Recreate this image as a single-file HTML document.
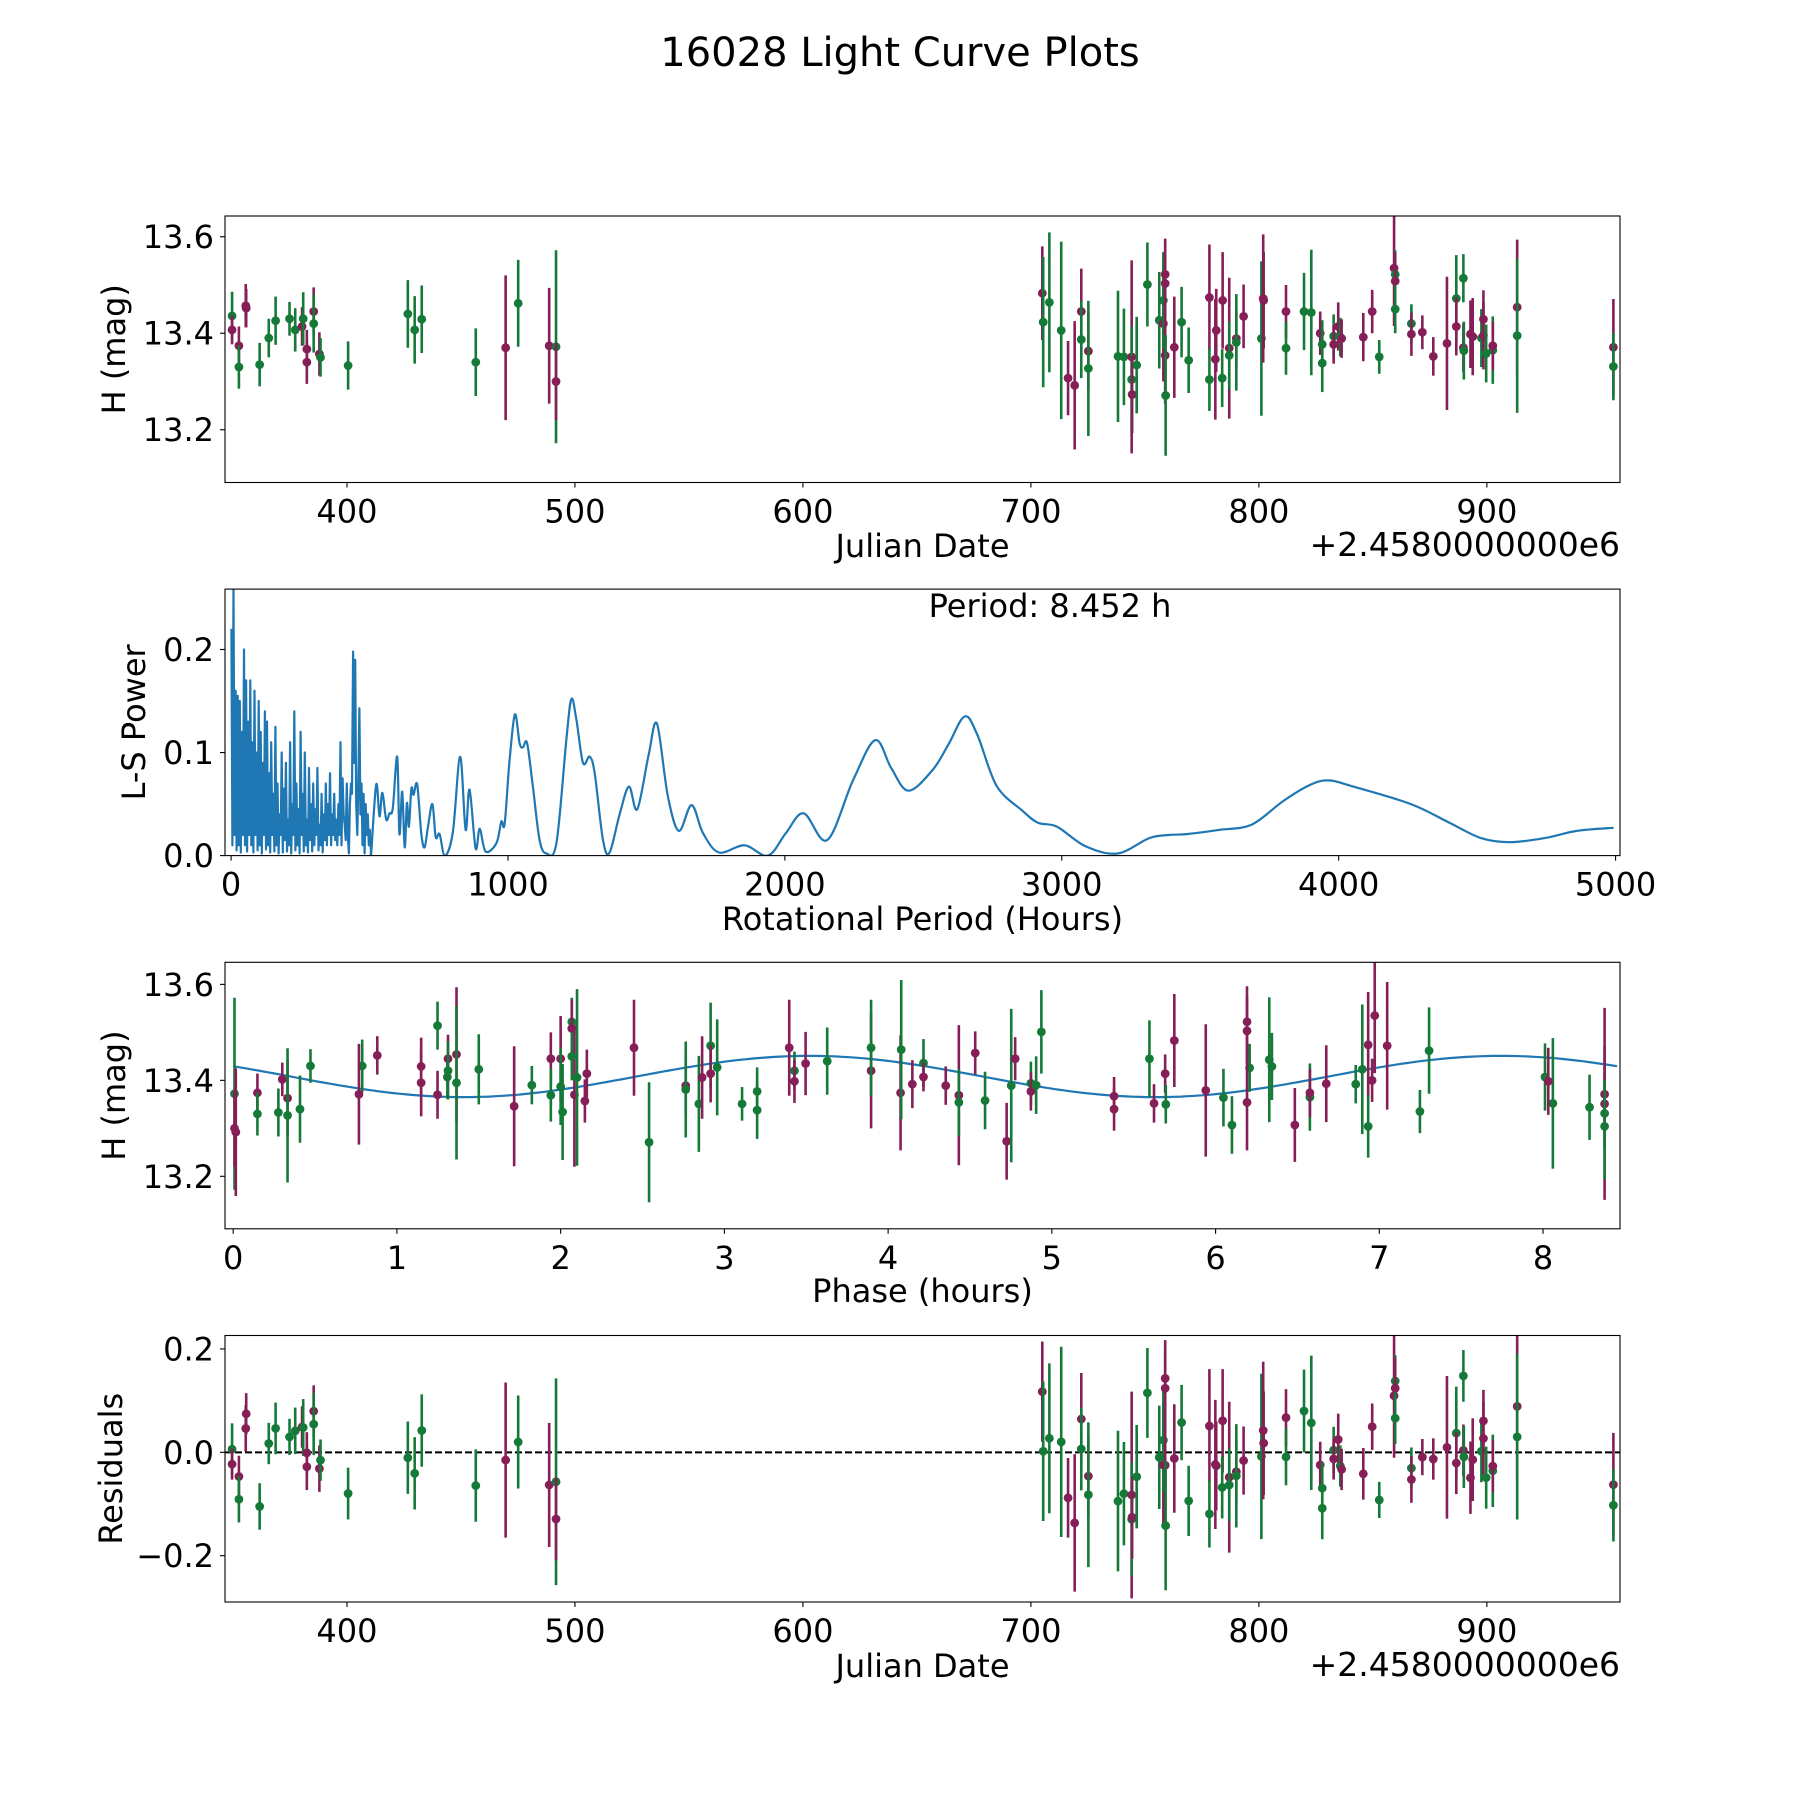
<!DOCTYPE html>
<html><head><meta charset="utf-8"><title>16028 Light Curve Plots</title>
<style>
html,body{margin:0;padding:0;background:#fff;}
svg{display:block;font-family:"DejaVu Sans","Liberation Sans",sans-serif;}
</style></head>
<body>
<svg id="fig" width="1800" height="1800" viewBox="0 0 1800 1800" xmlns="http://www.w3.org/2000/svg">
<rect x="0" y="0" width="1800" height="1800" fill="#fff"/>
<text x="900" y="66" font-size="40" text-anchor="middle">16028 Light Curve Plots</text>
</svg>
<script>
// ---- Light curve data (date offset from 2458000, mag, error, filter) ----
const obsDate = [349.6,349.6,352.6,352.6,355.6,355.8,361.7,365.7,368.7,374.8,377.3,380.3,380.8,382.4,382.4,385.4,385.4,387.9,388.4,400.5,426.7,429.7,432.8,456.5,469.6,475.1,488.7,491.7,491.7,
705.0,705.4,708.1,713.3,716.3,719.2,722.1,722.1,725.2,725.2,738.2,740.8,744.2,744.2,744.4,746.4,751.1,756.3,758.1,758.1,758.9,758.9,758.9,759.1,762.9,766.1,769.2,778.3,778.3,781.3,780.9,784.1,783.9,787.0,787.0,790.1,790.1,793.3,801.1,801.9,802.1,811.9,811.9,819.8,823.0,826.9,827.8,827.8,832.8,832.8,834.8,835.7,836.3,845.8,849.7,852.8,
859.3,859.8,859.8,859.8,866.9,866.9,871.7,876.5,882.5,886.6,886.6,889.7,889.7,889.9,892.8,893.8,897.6,898.5,898.5,899.7,902.6,902.6,913.3,913.3,955.5,955.5];
const obsMag = [13.436,13.407,13.374,13.330,13.457,13.452,13.335,13.390,13.426,13.430,13.407,13.414,13.430,13.367,13.340,13.445,13.420,13.357,13.350,13.333,13.440,13.407,13.429,13.340,13.370,13.462,13.374,13.372,13.300,
13.483,13.423,13.464,13.406,13.307,13.292,13.445,13.387,13.363,13.327,13.352,13.351,13.351,13.304,13.273,13.334,13.501,13.427,13.420,13.468,13.522,13.503,13.354,13.271,13.371,13.423,13.344,13.474,13.304,13.406,13.346,13.468,13.307,13.369,13.354,13.389,13.381,13.435,13.389,13.472,13.468,13.445,13.369,13.445,13.443,13.400,13.377,13.338,13.394,13.377,13.414,13.392,13.389,13.392,13.445,13.351,
13.535,13.522,13.508,13.450,13.420,13.398,13.402,13.352,13.379,13.472,13.414,13.514,13.370,13.364,13.398,13.393,13.390,13.429,13.395,13.358,13.365,13.374,13.454,13.395,13.371,13.331];
const obsErr = [0.05,0.03,0.04,0.045,0.045,0.04,0.045,0.04,0.05,0.035,0.045,0.04,0.055,0.04,0.045,0.05,0.06,0.045,0.04,0.05,0.07,0.07,0.07,0.07,0.15,0.09,0.12,0.2,0.08,
0.097,0.135,0.145,0.184,0.077,0.133,0.089,0.08,0.08,0.14,0.136,0.1,0.2,0.11,0.08,0.1,0.087,0.1,0.12,0.1,0.074,0.07,0.1,0.125,0.105,0.073,0.068,0.11,0.065,0.086,0.125,0.1,0.06,0.146,0.07,0.06,0.1,0.066,0.16,0.133,0.1,0.055,0.055,0.08,0.13,0.045,0.05,0.06,0.045,0.04,0.05,0.04,0.04,0.05,0.045,0.035,
0.12,0.05,0.06,0.05,0.04,0.045,0.035,0.04,0.138,0.09,0.06,0.05,0.05,0.06,0.07,0.08,0.06,0.06,0.07,0.06,0.07,0.05,0.14,0.16,0.1,0.07];
const obsBand = "gmmgmmgggggmgmmmgmggggggmgmgm"+"mgggmmmgmgggmgmgggmgmmmgmggmgmmmgmgmgmgmmmgggmgggmmgmmmgmgmg"+"gmmmmgmgmgmmgmmggmmgmgmmg";
// ---- Periodogram data ----
const noiseStart = 1, noiseEnd = 505;
const noisePower = [0.22,0.01,0.26,0.02,0.16,0.005,0.155,0.01,0.15,0.003,0.12,0.02,0.2,0.01,0.17,0.004,0.13,0.02,0.17,0.01,0.11,0.003,0.16,0.02,0.1,0.005,0.15,0.01,0.12,0.002,0.09,0.02,0.14,0.006,0.13,0.01,0.08,0.003,0.11,0.02,0.06,0.004,0.125,0.01,0.07,0.002,0.04,0.02,0.1,0.003,0.065,0.015,0.09,0.004,0.035,0.01,0.11,0.002,0.05,0.02,0.14,0.005,0.07,0.01,0.045,0.002,0.12,0.02,0.06,0.004,0.1,0.01,0.035,0.003,0.085,0.015,0.05,0.004,0.07,0.01,0.045,0.02,0.085,0.005,0.03,0.01,0.06,0.003,0.04,0.015,0.07,0.01,0.05,0.02,0.08,0.01,0.04,0.02,0.06,0.015,0.035,0.01,0.05,0.02,0.11,0.01,0.075,0.04,0.03,0.015,0.07,0.02,0.002,0.05,0.07,0.06,0.198,0.09,0.19,0.05,0.02,0.07,0.143,0.04,0.07,0.01,0.06,0.002,0.05,0.02,0.04,0.01,0.025,0.005];
const smoothPeriod = [506,524,536,546,560,572,584,600,608,618,627,635,642,651,659,672,687,699,711,727,739,753,772,801,827,847,861,883,898,919,958,976,988,1006,1025,1042,1054,1069,1090,1114,1139,1175,1211,1229,1247,1271,1295,1313,1343,1367,1404,1437,1467,1508,1538,1577,1617,1663,1704,1762,1854,1939,2004,2068,2153,2246,2326,2384,2446,2533,2591,2649,2694,2764,2856,2913,2983,3086,3201,3316,3386,3455,3570,3685,3800,3892,3961,4053,4261,4399,4514,4618,4744,4860,4993];
const smoothPower = [0.002,0.069,0.038,0.061,0.035,0.041,0.046,0.096,0.021,0.062,0.008,0.051,0.028,0.065,0.059,0.069,0.021,0.008,0.028,0.05,0.018,0.021,0.0,0.023,0.096,0.025,0.064,0.007,0.026,0.004,0.012,0.033,0.031,0.093,0.137,0.109,0.105,0.109,0.067,0.015,0.002,0.012,0.113,0.152,0.132,0.09,0.096,0.08,0.015,0.003,0.041,0.067,0.045,0.098,0.128,0.058,0.024,0.049,0.022,0.003,0.01,0.0,0.022,0.041,0.015,0.073,0.112,0.085,0.063,0.083,0.108,0.135,0.118,0.068,0.044,0.032,0.028,0.009,0.002,0.017,0.02,0.021,0.025,0.03,0.053,0.068,0.073,0.067,0.05,0.032,0.017,0.013,0.017,0.024,0.027];
// ---- Fit model ----
const periodHours = 8.452;
const fitMean = 13.408, fitAmp = 0.043, fitPeak = 3.52;

const NS = "http://www.w3.org/2000/svg";
const svg = document.getElementById('fig');
const GREEN = '#157a38', MAROON = '#861f57', BLUE = '#1f77b4';
function mk(tag, attrs, parent){ const e=document.createElementNS(NS,tag); for(const k in attrs) e.setAttribute(k,attrs[k]); (parent||svg).appendChild(e); return e; }
function txt(s, x, y, size, anchor, parent){ const t=mk('text',{x:x,y:y,'font-size':size,'text-anchor':anchor||'middle'},parent); t.textContent=s; return t; }

const L=225, R=1620;
const axTops=[216,589.1,962.3,1335.5], axH=266.5;
function makeAxis(i, xmin, xmax, ymin, ymax, name){
  const top=axTops[i], bot=top+axH;
  const g = mk('g',{});
  
  
  const cp = mk('clipPath',{id:'clip'+i},g);
  mk('rect',{x:L,y:top,width:R-L,height:axH},cp);
  const plot = mk('g',{'clip-path':'url(#clip'+i+')'},g);
  
  
  return {g, plot, top, bot,
    sx: v => L + (v-xmin)/(xmax-xmin)*(R-L),
    sy: v => bot - (v-ymin)/(ymax-ymin)*axH};
}
function frame(ax, xticks, xlabels, yticks, ylabels, xlabel, xlabelY, ylabel, ylabelX){
  const g = mk('g',{},ax.g);
  
  
  mk('rect',{x:L,y:ax.top,width:R-L,height:axH,fill:'none',stroke:'#000','stroke-width':1.1},g);
  xticks.forEach((v,k)=>{ const x=ax.sx(v); mk('line',{x1:x,x2:x,y1:ax.bot,y2:ax.bot+5,stroke:'#000','stroke-width':1.1},g);
    const t=txt(xlabels[k], x, ax.bot+40, 32, 'middle', g);
    
     });
  yticks.forEach((v,k)=>{ const y=ax.sy(v); mk('line',{x1:L-5,x2:L,y1:y,y2:y,stroke:'#000','stroke-width':1.1},g);
    const t=txt(ylabels[k], L-11, y+11.5, 32, 'end', g);
    
     });
  const xl = txt(xlabel, 922.5, xlabelY, 32, 'middle', g);
  
  
  const cy = ax.top+axH/2;
  const yl = txt(ylabel, ylabelX, cy, 32, 'middle', g);
  yl.setAttribute('transform','rotate(-90 '+ylabelX+' '+cy+')');
  
  
}
function errPoint(ax, x, y, e, band){
  const c = band==='g'?GREEN:MAROON;
  const p = mk('g',{},ax.plot);
  
  
  mk('line',{x1:ax.sx(x),x2:ax.sx(x),y1:ax.sy(y-e),y2:ax.sy(y+e),stroke:c,'stroke-width':2.6},p);
  mk('circle',{cx:ax.sx(x),cy:ax.sy(y),r:4.4,fill:c},p);
}
function model(ph){ return fitMean + fitAmp*Math.cos(2*Math.PI*(ph-fitPeak)/(periodHours/2)); }
function phaseOf(d){ const h=(d+2458000)*24; return ((h % periodHours)+periodHours)%periodHours; }
function splinePath(p){
  let d='M'+p[0][0].toFixed(1)+','+p[0][1].toFixed(1);
  for(let i=0;i<p.length-1;i++){
    const p0=p[Math.max(0,i-1)], p1=p[i], p2=p[i+1], p3=p[Math.min(p.length-1,i+2)];
    const c1x=p1[0]+(p2[0]-p0[0])/6, c1y=p1[1]+(p2[1]-p0[1])/6;
    const c2x=p2[0]-(p3[0]-p1[0])/6, c2y=p2[1]-(p3[1]-p1[1])/6;
    d+=' C'+c1x.toFixed(1)+','+c1y.toFixed(1)+' '+c2x.toFixed(1)+','+c2y.toFixed(1)+' '+p2[0].toFixed(1)+','+p2[1].toFixed(1);
  }
  return d;
}

// Axis 1: light curve
const a1 = makeAxis(0, 346.5, 958.4, 13.0906, 13.643, 'light-curve-axes');
obsDate.forEach((d,i)=>errPoint(a1, d, obsMag[i], obsErr[i], obsBand[i]));
frame(a1,[400,500,600,700,800,900],['400','500','600','700','800','900'],[13.2,13.4,13.6],['13.2','13.4','13.6'],'Julian Date',557,'H (mag)',125);
let o1=txt('+2.4580000000e6',1620,556,33,'end',a1.g);



// Axis 2: periodogram
const a2 = makeAxis(1, -22, 5016, 0, 0.2586, 'periodogram-axes');
let pts=[];
noisePower.forEach((p,i)=>{ const per = noiseStart + i*(noiseEnd-noiseStart)/(noisePower.length-1); pts.push(a2.sx(per).toFixed(1)+','+a2.sy(p).toFixed(1)); });
const pl = mk('polyline',{points:pts.join(' '),fill:'none',stroke:BLUE,'stroke-width':2.2,'stroke-linejoin':'round'},a2.plot);


const sp=[[a2.sx(noiseEnd),a2.sy(noisePower[noisePower.length-1])]];
smoothPeriod.forEach((per,i)=>sp.push([a2.sx(per),a2.sy(smoothPower[i])]));
const pl2 = mk('path',{d:splinePath(sp),fill:'none',stroke:BLUE,'stroke-width':2.2,'stroke-linejoin':'round'},a2.plot);


frame(a2,[0,1000,2000,3000,4000,5000],['0','1000','2000','3000','4000','5000'],[0,0.1,0.2],['0.0','0.1','0.2'],'Rotational Period (Hours)',930,'L-S Power',145);
let pt=txt('Period: 8.452 h',1050,617,32,'middle',a2.g);



// Axis 3: phased
const a3 = makeAxis(2, -0.05, 8.47, 13.0906, 13.646, 'phase-curve-axes');
let mp=[]; for(let k=0;k<=200;k++){ const ph=k*periodHours/200; mp.push(a3.sx(ph).toFixed(1)+','+a3.sy(model(ph)).toFixed(1)); }
const ml = mk('polyline',{points:mp.join(' '),fill:'none',stroke:BLUE,'stroke-width':2.2},a3.plot);


obsDate.forEach((d,i)=>errPoint(a3, phaseOf(d), obsMag[i], obsErr[i], obsBand[i]));
frame(a3,[0,1,2,3,4,5,6,7,8],['0','1','2','3','4','5','6','7','8'],[13.2,13.4,13.6],['13.2','13.4','13.6'],'Phase (hours)',1302,'H (mag)',125);

// Axis 4: residuals
const a4 = makeAxis(3, 346.5, 958.4, -0.2896, 0.226, 'residuals-axes');
const zl = mk('line',{x1:L,x2:R,y1:a4.sy(0),y2:a4.sy(0),stroke:'#000','stroke-width':2,'stroke-dasharray':'7,3'},a4.plot);


obsDate.forEach((d,i)=>errPoint(a4, d, obsMag[i]-model(phaseOf(d)), obsErr[i], obsBand[i]));
frame(a4,[400,500,600,700,800,900],['400','500','600','700','800','900'],[-0.2,0,0.2],['\u22120.2','0.0','0.2'],'Julian Date',1677,'Residuals',122);
let o4=txt('+2.4580000000e6',1620,1676,33,'end',a4.g);


</script>
</body></html>
